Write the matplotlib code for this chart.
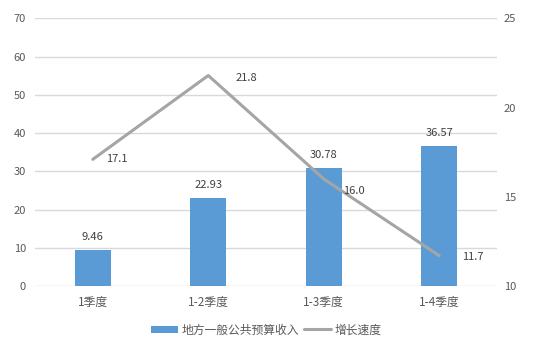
import matplotlib
matplotlib.use("Agg")
import matplotlib.pyplot as plt
import numpy as np

plt.rcParams["font.family"] = ["Noto Sans CJK SC", "DejaVu Sans"]

categories = ["1季度", "1-2季度", "1-3季度", "1-4季度"]
revenue = [9.46, 22.93, 30.78, 36.57]
growth = [17.1, 21.8, 16.0, 11.7]
growth_labels = ["17.1", "21.8", "16.0", "11.7"]

BAR_COLOR = "#5B9BD5"
LINE_COLOR = "#A5A5A5"
GRID_COLOR = "#D9D9D9"
TEXT_COLOR = "#595959"

fig = plt.figure(figsize=(5.33, 3.54), dpi=100)
ax = fig.add_axes([0.0657, 0.192, 0.8668, 0.756])
ax2 = ax.twinx()

x = np.arange(len(categories))
ax.bar(x, revenue, width=0.31, color=BAR_COLOR, zorder=2, label="地方一般公共预算收入")
ax.set_xlim(-0.5, len(categories) - 0.5)
ax.set_ylim(0, 70)
ax.set_yticks(range(0, 71, 10))
ax.set_xticks(x)
ax.set_xticklabels(categories, fontsize=8.5)
ax.grid(axis="y", color=GRID_COLOR, linewidth=1, zorder=0)
ax.set_axisbelow(True)

for xi, v in zip(x, revenue):
    ax.annotate(f"{v:.2f}", (xi, v), xytext=(0, 8), textcoords="offset pixels",
                ha="center", va="bottom", fontsize=8, color="#404040")

ax2.plot(x, growth, color=LINE_COLOR, linewidth=2.2, solid_capstyle="round",
         label="增长速度", zorder=3)
ax2.set_ylim(10, 25)
ax2.set_yticks(range(10, 26, 5))

label_offsets = [(13, 0), (27, -2), (19, -12), (23, -1)]
for xi, v, txt, off in zip(x, growth, growth_labels, label_offsets):
    ax2.annotate(txt, (xi, v), xytext=off, textcoords="offset pixels",
                 ha="left", va="center", fontsize=8, color="#404040")

for a in (ax, ax2):
    for s in a.spines.values():
        s.set_visible(False)
    a.tick_params(length=0, labelsize=8, labelcolor=TEXT_COLOR)
ax.tick_params(axis="x", labelsize=8.5, pad=7)
ax.tick_params(axis="y", pad=6.5)
ax2.tick_params(axis="y", pad=5)

h1, l1 = ax.get_legend_handles_labels()
h2, l2 = ax2.get_legend_handles_labels()
fig.legend(h1 + h2, l1 + l2, loc="center", bbox_to_anchor=(0.5, 0.068), ncol=2,
           frameon=False, fontsize=8.5, labelcolor=TEXT_COLOR, handlelength=2.3,
           handleheight=0.6, handletextpad=0.3, columnspacing=0.4)

fig.savefig("out.png", dpi=100)
